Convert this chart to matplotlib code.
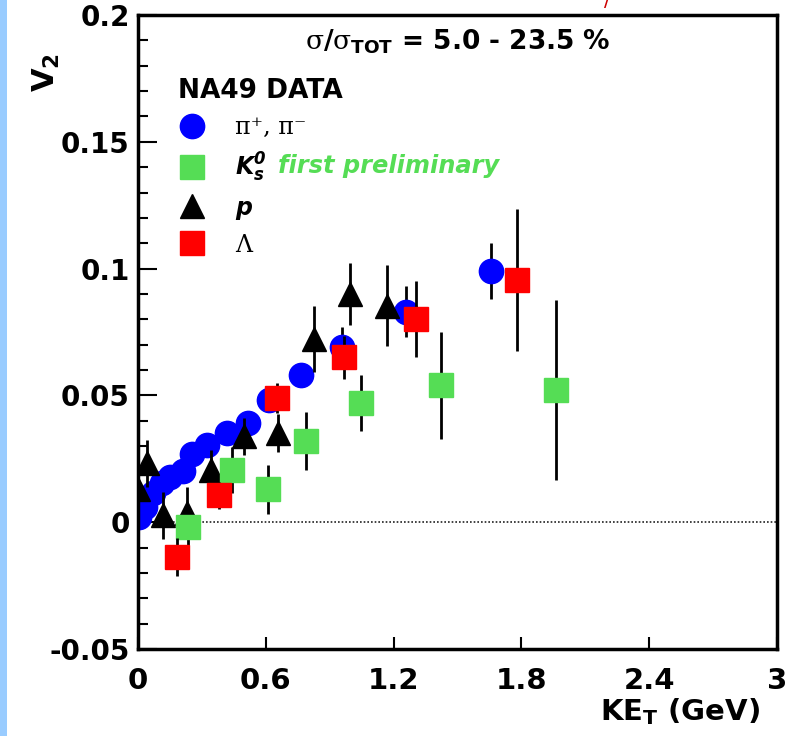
import matplotlib
matplotlib.use("Agg")
import matplotlib.pyplot as plt
from matplotlib.lines import Line2D
from matplotlib.patches import Rectangle

plt.rcParams['font.family'] = ['DejaVu Sans']
plt.rcParams['mathtext.fontset'] = 'custom'
plt.rcParams['mathtext.rm'] = 'DejaVu Sans:bold'
plt.rcParams['mathtext.bf'] = 'DejaVu Sans:bold'
plt.rcParams['mathtext.it'] = 'DejaVu Serif'
plt.rcParams['mathtext.bfit'] = 'DejaVu Sans:bold:italic'
plt.rcParams['mathtext.sf'] = 'DejaVu Sans'

# ---- data ----
pi_x = [0.005, 0.033, 0.07, 0.115, 0.15, 0.21, 0.253, 0.323, 0.417, 0.515, 0.617, 0.767, 0.959, 1.258, 1.655]
pi_y = [0.002, 0.006, 0.0115, 0.0155, 0.018, 0.020, 0.027, 0.0305, 0.035, 0.039, 0.048, 0.058, 0.069, 0.083, 0.099]
pi_e = [0.002, 0.002, 0.002, 0.002, 0.002, 0.002, 0.002, 0.002, 0.002, 0.003, 0.003, 0.004, 0.008, 0.010, 0.011]

k0_x = [0.234, 0.44, 0.608, 0.79, 1.047, 1.421, 1.963]
k0_y = [-0.002, 0.0206, 0.013, 0.032, 0.047, 0.054, 0.052]
k0_e = [0.008, 0.009, 0.0096, 0.0116, 0.0112, 0.021, 0.0355]

p_x = [0.0, 0.041, 0.119, 0.228, 0.345, 0.50, 0.656, 0.828, 0.996, 1.17]
p_y = [0.013, 0.0233, 0.0028, 0.0037, 0.0206, 0.0339, 0.0352, 0.0722, 0.090, 0.0854]
p_e = [0.007, 0.0093, 0.0093, 0.010, 0.008, 0.0073, 0.0076, 0.013, 0.0124, 0.016]

lam_x = [0.184, 0.381, 0.653, 0.968, 1.306, 1.781]
lam_y = [-0.0138, 0.0107, 0.049, 0.065, 0.080, 0.0954]
lam_e = [0.0076, 0.0053, 0.006, 0.0084, 0.015, 0.028]

x_ticks = [0, 0.6, 1.2, 1.8, 2.4, 3]
x_ticklabels = ['0', '0.6', '1.2', '1.8', '2.4', '3']
y_ticks = [-0.05, 0, 0.05, 0.1, 0.15, 0.2]
y_ticklabels = ['-0.05', '0', '0.05', '0.1', '0.15', '0.2']

legend_labels = ['\u03c0\u207a, \u03c0\u207b', r'$\mathbfit{K}_{\mathbfit{s}}^{\mathbfit{0}}$',
                 r'$\mathbfit{p}$', '\u039b']

BLUE = '#0000ff'
GREEN = '#55dd55'
RED = '#ff0000'

fig = plt.figure(figsize=(8.12, 7.36), dpi=100)
fig.patches.append(Rectangle((0, 0), 7 / 812, 1, transform=fig.transFigure,
                             facecolor='#99ccff', edgecolor='none', zorder=0))
ax = fig.add_axes([138 / 812, 1 - 649 / 736, 639 / 812, 634 / 736])
ax.set_xlim(0, 3)
ax.set_ylim(-0.05, 0.2)

ax.axhline(0, xmin=0.02, xmax=1, color='#222222', lw=1.2, ls=(0, (1, 1.2)), zorder=1)

ms = 17.5
ekw = dict(ls='none', ecolor='black', elinewidth=2.0, capsize=0)
ax.errorbar(pi_x, pi_y, yerr=pi_e, marker='o', ms=ms, mfc=BLUE, mec=BLUE, zorder=2, **ekw)
ax.errorbar(p_x, p_y, yerr=p_e, marker='^', ms=ms, mfc='black', mec='black', zorder=3, **ekw)
ax.errorbar(k0_x, k0_y, yerr=k0_e, marker='s', ms=ms, mfc=GREEN, mec=GREEN, zorder=4, **ekw)
ax.errorbar(lam_x, lam_y, yerr=lam_e, marker='s', ms=ms, mfc=RED, mec=RED, zorder=5, **ekw)

for s in ax.spines.values():
    s.set_linewidth(2.5)

ax.set_xticks(x_ticks)
ax.set_xticklabels(x_ticklabels)
ax.set_yticks(y_ticks)
ax.set_yticklabels(y_ticklabels)
ax.set_yticks([i / 100 for i in range(-5, 21)], minor=True)
ax.tick_params(axis='both', which='both', direction='in', top=False, right=False)
ax.tick_params(axis='y', which='major', length=14, width=1.5, labelsize=20, pad=6)
ax.tick_params(axis='y', which='minor', length=7, width=1.5)
ax.tick_params(axis='x', which='major', length=9, width=1.5, labelsize=21, pad=13)
ax.tick_params(axis='x', which='minor', bottom=False)
for lab in ax.get_xticklabels() + ax.get_yticklabels():
    lab.set_fontweight('bold')

fig.text(46 / 812, 1 - 72 / 736, r'$\mathbf{V}_{\mathbf{2}}$', rotation=90,
         fontsize=22, fontweight='bold', ha='center', va='center')
fig.text(760 / 812, 1 - 712 / 736, r'KE$_{\mathbf{T}}$ (GeV)',
         fontsize=21, fontweight='bold', ha='right', va='center')

ax.text(0.50, 0.957, r'$\sigma$/$\sigma_{\mathbf{TOT}}$ = 5.0 - 23.5 %', transform=ax.transAxes,
        fontsize=19, fontweight='bold', ha='center', va='center')

handles = [
    Line2D([], [], ls='none', marker='o', ms=ms, mfc=BLUE, mec=BLUE),
    Line2D([], [], ls='none', marker='s', ms=ms, mfc=GREEN, mec=GREEN),
    Line2D([], [], ls='none', marker='^', ms=ms, mfc='black', mec='black'),
    Line2D([], [], ls='none', marker='s', ms=ms, mfc=RED, mec=RED),
]
leg = ax.legend(handles, legend_labels, loc='upper left', bbox_to_anchor=(0.048, 0.915),
                frameon=False, fontsize=17, handlelength=1.2, handletextpad=1.2,
                labelspacing=0.5, title='NA49 DATA',
                title_fontproperties={'weight': 'bold', 'size': 19},
                alignment='left', borderaxespad=0)
for i in (0, 3):
    leg.get_texts()[i].set_fontfamily(['DejaVu Serif'])

fig.text(278 / 812, 1 - 166 / 736, 'first preliminary',
         fontsize=17.4, fontweight='bold', style='italic', color=GREEN, ha='left', va='center')

fig.text(607 / 812, 1.0, '/', color='#cc0000', fontsize=14, ha='center', va='center')

fig.savefig('out.png', dpi=100)
